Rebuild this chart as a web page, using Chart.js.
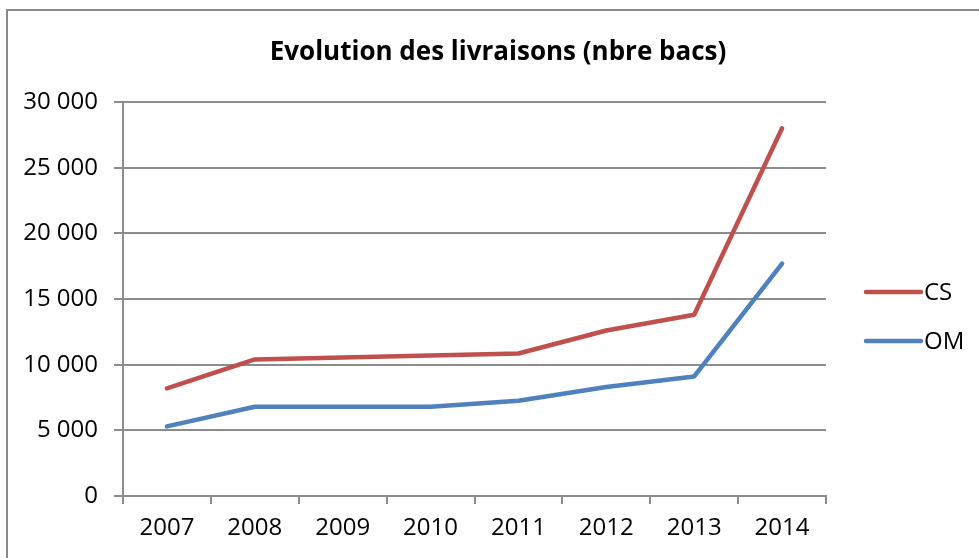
<!DOCTYPE html>
<html>
<head>
<meta charset="utf-8">
<script src="https://cdn.jsdelivr.net/npm/chart.js@4.4.1/dist/chart.umd.min.js"></script>
<style>
  html, body { margin: 0; padding: 0; background: #fff; }
  #wrap { width: 979px; height: 558px; position: relative; }
</style>
</head>
<body>
<div id="wrap"><canvas id="lineChart"></canvas></div>
<script>
// data
const years = ['2007', '2008', '2009', '2010', '2011', '2012', '2013', '2014'];
const csValues = [8200, 10400, 10550, 10700, 10850, 12600, 13800, 28000];
const omValues = [5300, 6800, 6800, 6800, 7250, 8300, 9100, 17700];
const yTicks = [0, 5000, 10000, 15000, 20000, 25000, 30000];
const chartTitle = 'Evolution des livraisons (nbre bacs)';

const FONT = "'Open Sans', 'Noto Sans', sans-serif";
const gridGray = '#8c8c8c';

function fmt(v) {
    return String(v).replace(/\B(?=(\d{3})+(?!\d))/g, ' ');
}

// frame, title and legend drawn by hand (Excel look)
const extras = {
    id: 'extras',
    beforeDraw(chart) {
        const c = chart.ctx;
        c.save();
        c.strokeStyle = '#8a8a8a';
        c.lineWidth = 2;
        c.beginPath();
        c.moveTo(7, 558);
        c.lineTo(7, 10);
        c.lineTo(979, 10);
        c.stroke();
        c.restore();
    },
    afterDraw(chart) {
        const c = chart.ctx;
        const area = chart.chartArea;
        c.save();
        // title
        c.fillStyle = '#000';
        c.font = 'bold 26px ' + FONT;
        c.textAlign = 'center';
        c.textBaseline = 'middle';
        c.fillText(chartTitle, 498, 53);
        // legend
        const x0 = area.right + 40;
        c.font = '24px ' + FONT;
        c.textAlign = 'left';
        chart.data.datasets.forEach((ds, i) => {
            const y = area.top + 190 + i * 49;
            c.strokeStyle = ds.borderColor;
            c.lineWidth = 4.5;
            c.lineCap = 'round';
            c.beginPath();
            c.moveTo(x0, y);
            c.lineTo(x0 + 55, y);
            c.stroke();
            c.fillText(ds.label, x0 + 58, y + 1);
        });
        c.restore();
    }
};

const ctx = document.getElementById('lineChart').getContext('2d');
new Chart(ctx, {
    type: 'line',
    data: {
        labels: years,
        datasets: [{
            label: 'CS',
            data: csValues,
            borderColor: '#C0504D',
            borderWidth: 4.5,
            borderCapStyle: 'round',
            borderJoinStyle: 'round',
            pointRadius: 0,
            tension: 0,
            fill: false
        }, {
            label: 'OM',
            data: omValues,
            borderColor: '#4F81BD',
            borderWidth: 4.5,
            borderCapStyle: 'round',
            borderJoinStyle: 'round',
            pointRadius: 0,
            tension: 0,
            fill: false
        }]
    },
    options: {
        responsive: true,
        maintainAspectRatio: false,
        animation: false,
        layout: { padding: { left: 7, right: 153, top: 102, bottom: 0 } },
        plugins: {
            legend: { display: false },
            tooltip: { enabled: false },
            title: { display: false }
        },
        scales: {
            x: {
                offset: true,
                afterFit(scale) { scale.height = 62; },
                grid: {
                    offset: true,
                    drawOnChartArea: false,
                    color: gridGray,
                    lineWidth: 2,
                    tickLength: 8
                },
                border: { color: gridGray, width: 2 },
                ticks: {
                    color: '#000',
                    padding: 10,
                    maxRotation: 0,
                    font: { family: FONT, size: 24 }
                }
            },
            y: {
                min: 0,
                max: 30000,
                afterFit(scale) { scale.width = 116; },
                afterBuildTicks(scale) { scale.ticks = yTicks.map(v => ({ value: v })); },
                grid: {
                    color: gridGray,
                    lineWidth: 2,
                    tickLength: 9
                },
                border: { color: gridGray, width: 2 },
                ticks: {
                    color: '#000',
                    padding: 16,
                    font: { family: FONT, size: 24 },
                    callback: v => fmt(v)
                }
            }
        }
    },
    plugins: [extras]
});
</script>
</body>
</html>
